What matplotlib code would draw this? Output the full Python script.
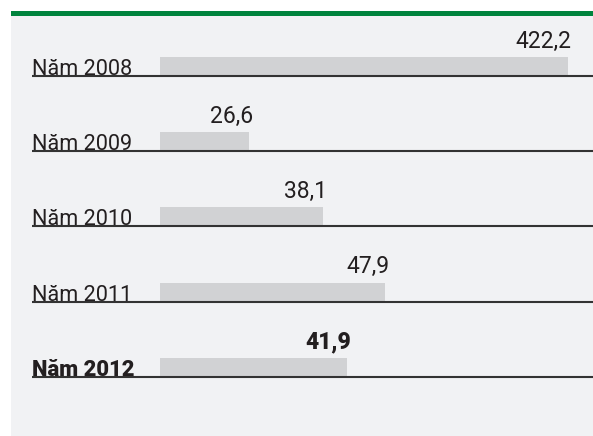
import numpy as np
import matplotlib
matplotlib.use("Agg")
import matplotlib.pyplot as plt
from matplotlib.patches import Rectangle
from matplotlib.transforms import blended_transform_factory

# ---- data ----
categories = ["Năm 2008", "Năm 2009", "Năm 2010", "Năm 2011", "Năm 2012"]
values = [422.2, 26.6, 38.1, 47.9, 41.9]

# ---- style ----
BG = "#f1f2f4"
BAR = "#d1d2d4"
GREEN = "#00843d"
TXT = "#231f20"
LINE = "#333333"

plt.rcParams["font.family"] = ["Roboto", "DejaVu Sans"]

W, H = 593, 436
fig = plt.figure(figsize=(W / 100, H / 100), dpi=100)
fig.patch.set_facecolor("white")

# background panel and green rule
fig.add_artist(Rectangle((11 / W, 0), 1 - 11 / W, (H - 16) / H,
                         transform=fig.transFigure, color=BG, zorder=0, lw=0))
fig.add_artist(Rectangle((11 / W, (H - 16) / H), 1 - 11 / W, 5 / H,
                         transform=fig.transFigure, color=GREEN, zorder=0, lw=0))

ax = fig.add_axes([160 / W, 0, (W - 160) / W, (H - 16) / H])

# broken-axis style scale: linear up to B, compressed beyond
B, K = 50.0, 0.0709


def fwd(v):
    v = np.asarray(v, dtype=float)
    return np.where(v <= B, v, B + (v - B) * K)


def inv(u):
    u = np.asarray(u, dtype=float)
    return np.where(u <= B, u, B + (u - B) / K)


ax.set_xscale("function", functions=(fwd, inv))
ax.set_xlim(12.69, 478)

row_px = 75.25
ax.set_ylim((H - 76) / row_px, -(76 - 16) / row_px)
ax.axis("off")

pos = np.arange(len(categories))
bar_h = 19 / row_px
ax.barh(pos, values, height=-bar_h, align="edge", color=BAR, zorder=2)

trans = blended_transform_factory(ax.transAxes, ax.transData)
label_x = (32 - 160) / (W - 160)
n = len(categories)
for i, (cat, val) in enumerate(zip(categories, values)):
    hl = i == n - 1
    ax.plot([label_x, 1.0], [i, i], transform=trans, color=LINE, lw=1.5,
            clip_on=False, zorder=3, solid_capstyle="butt")
    ax.annotate(cat, xy=(label_x, i), xycoords=trans, xytext=(0, 0.8),
                textcoords="offset points", ha="left", va="baseline",
                fontsize=15.6 if not hl else 15.8, color=TXT,
                fontweight="heavy" if hl else "normal", zorder=4)
    ax.annotate(f"{val:.1f}".replace(".", ","), xy=(val, i - bar_h),
                xytext=(4 * 0.72, 9.5 * 0.72), textcoords="offset points",
                ha="right", va="baseline", fontsize=16.5, color=TXT,
                fontweight="heavy" if hl else "normal", zorder=4)

fig.savefig("out.png", dpi=100)
